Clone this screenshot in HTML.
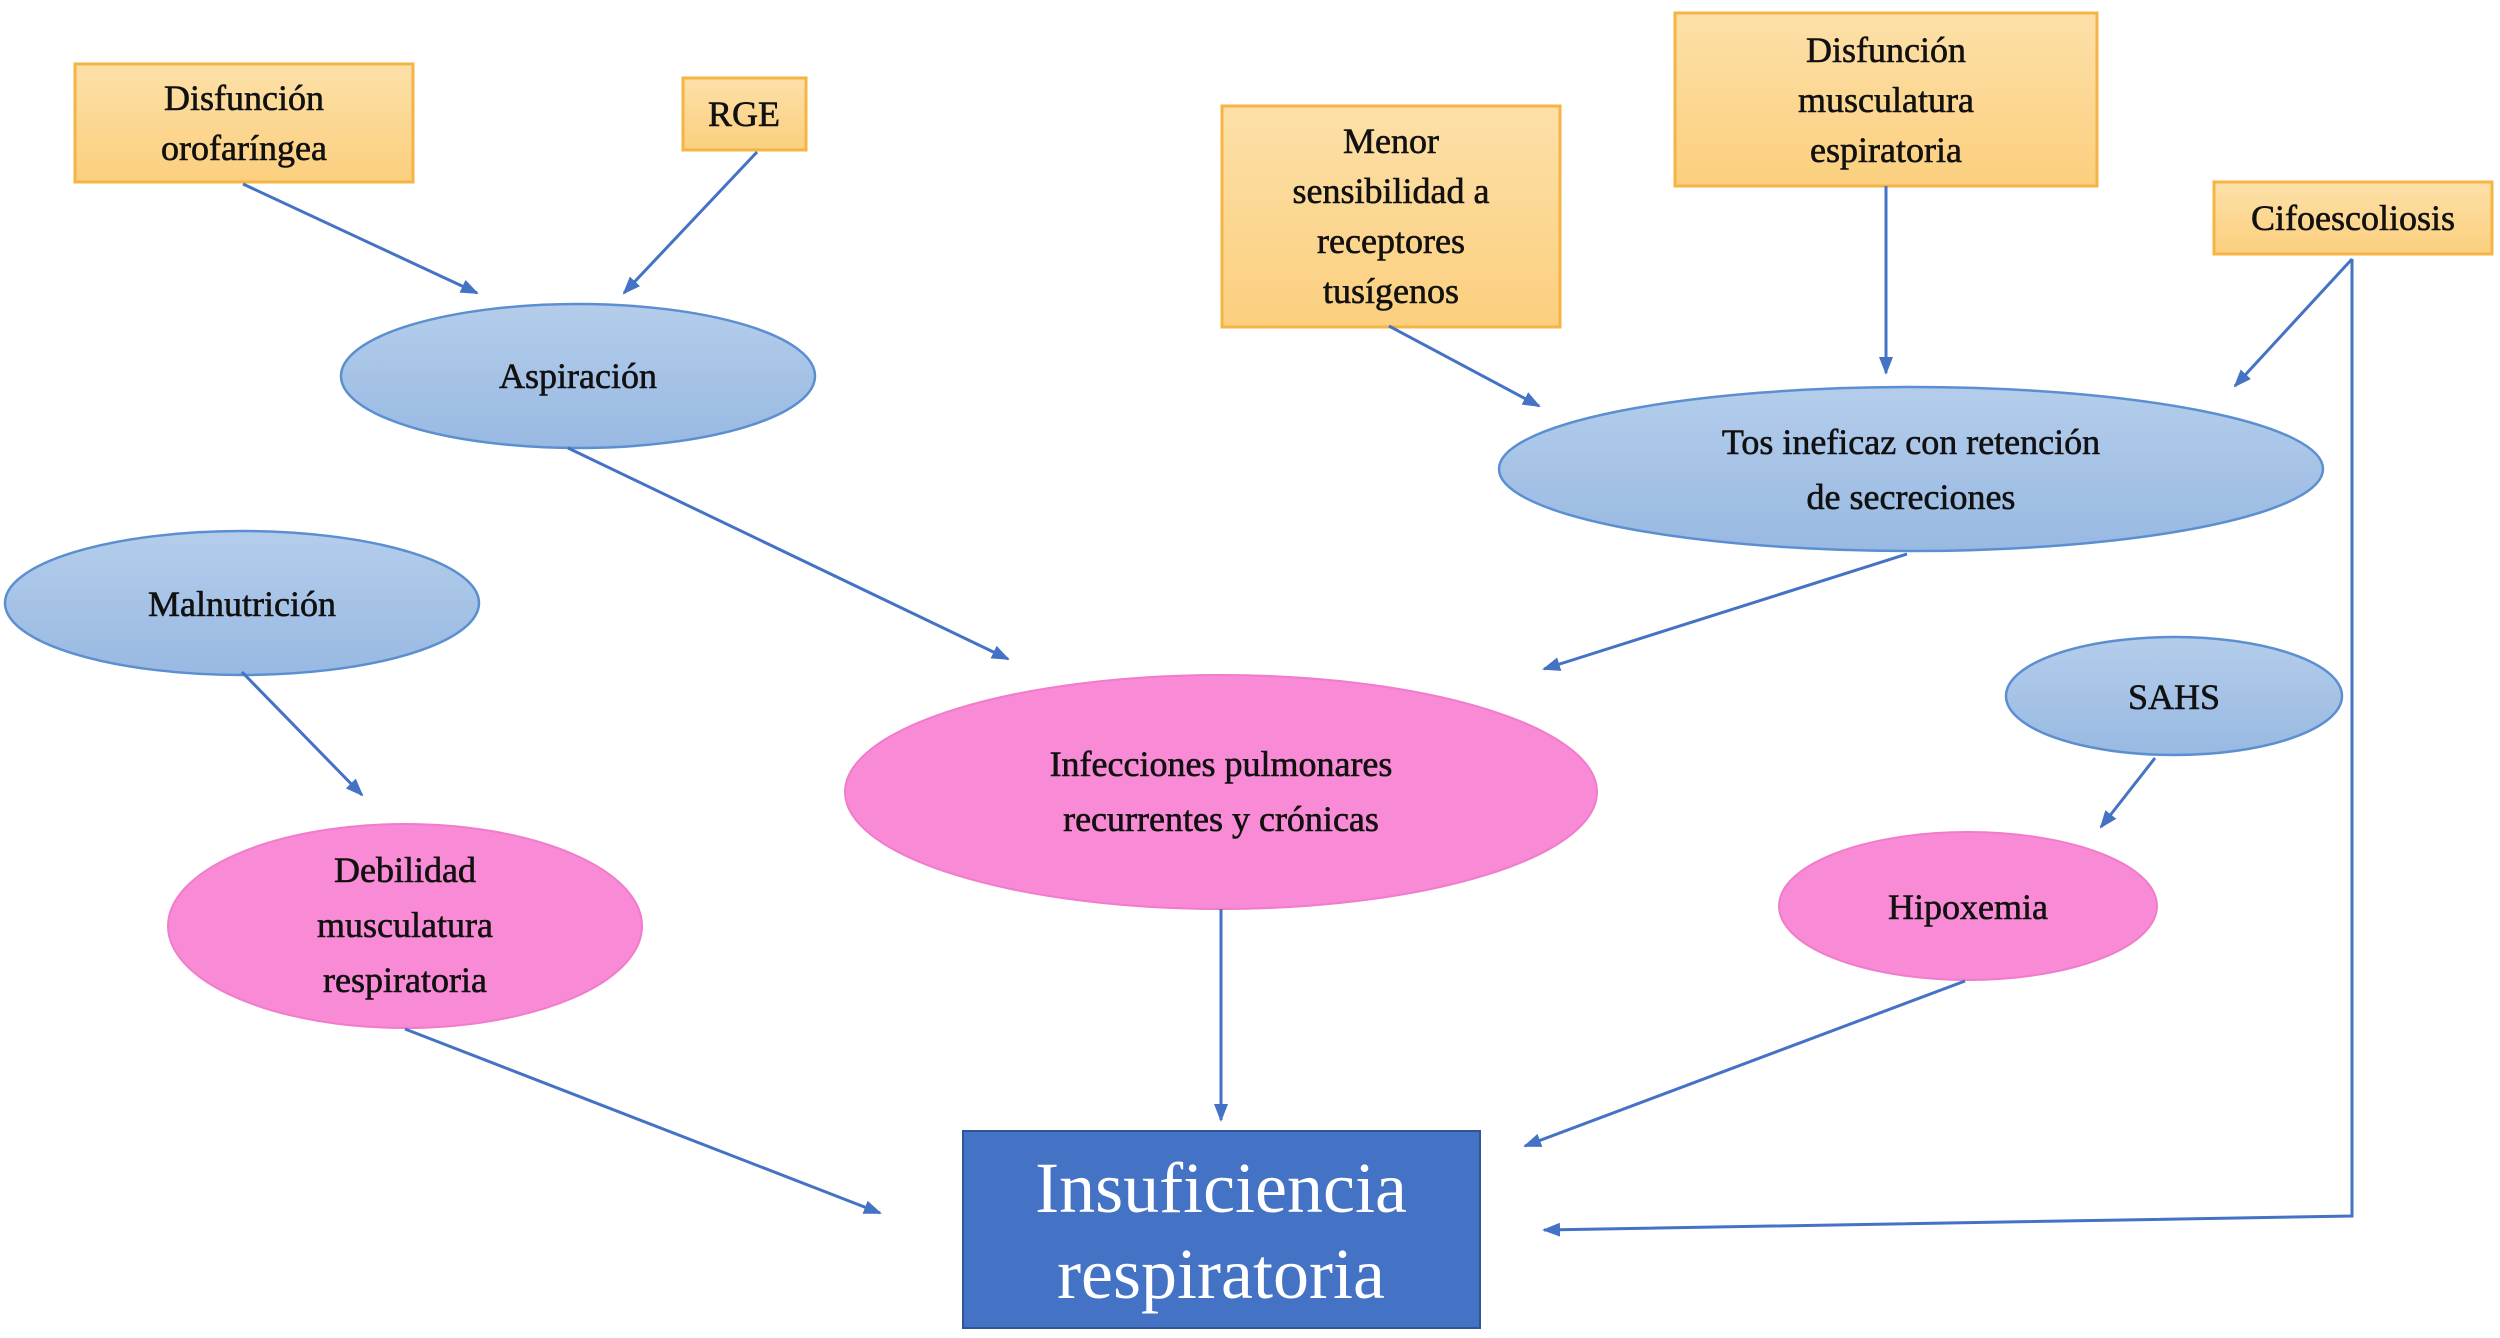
<!DOCTYPE html>
<html><head><meta charset="utf-8"><style>
html,body{margin:0;padding:0;background:#fff}
svg text{font-family:"Liberation Serif",serif;fill:#111}
</style></head><body>
<svg width="2500" height="1333" viewBox="0 0 2500 1333" xmlns="http://www.w3.org/2000/svg">
<defs>
<linearGradient id="o" x1="0" y1="0" x2="0" y2="1"><stop offset="0" stop-color="#fde0a8"/><stop offset="1" stop-color="#fbcf7e"/></linearGradient>
<linearGradient id="b" x1="0" y1="0" x2="0" y2="1"><stop offset="0" stop-color="#b4cdeb"/><stop offset="1" stop-color="#98b9e2"/></linearGradient>
<marker id="a" markerWidth="18" markerHeight="16" refX="16" refY="8" orient="auto" markerUnits="userSpaceOnUse" viewBox="0 0 18 16"><path d="M0,1 L18,8 L0,15 z" fill="#4472c4"/></marker>
</defs>
<g fill="url(#o)" stroke="#f4b545" stroke-width="3">
<rect x="75" y="64" width="338" height="118"/>
<rect x="683" y="78" width="123" height="72"/>
<rect x="1222" y="106" width="338" height="221"/>
<rect x="1675" y="13" width="422" height="173"/>
<rect x="2214" y="182" width="278" height="72"/>
</g>
<g fill="url(#b)" stroke="#5b8fd0" stroke-width="2.5">
<ellipse cx="578" cy="376" rx="237" ry="72"/>
<ellipse cx="1911" cy="469" rx="412" ry="82"/>
<ellipse cx="242" cy="603" rx="237" ry="72"/>
<ellipse cx="2174" cy="696" rx="168" ry="59"/>
</g>
<g fill="#f98ad6" stroke="#f07ccb" stroke-width="2">
<ellipse cx="1221" cy="792" rx="376" ry="117"/>
<ellipse cx="405" cy="926" rx="237" ry="102"/>
<ellipse cx="1968" cy="906" rx="189" ry="74"/>
</g>
<rect x="963" y="1131" width="517" height="197" fill="#4472c4" stroke="#2f5597" stroke-width="2"/>
<g stroke="#4472c4" stroke-width="3" fill="none" marker-end="url(#a)">
<line x1="243" y1="184" x2="477" y2="293"/>
<line x1="757" y1="152" x2="624" y2="293"/>
<line x1="568" y1="448" x2="1008" y2="659"/>
<line x1="1389" y1="326" x2="1539" y2="406"/>
<line x1="1886" y1="186" x2="1886" y2="373"/>
<line x1="2352" y1="259" x2="2235" y2="386"/>
<line x1="1907" y1="554" x2="1544" y2="669"/>
<line x1="242" y1="672" x2="362" y2="795"/>
<line x1="2155" y1="758" x2="2101" y2="827"/>
<line x1="1221" y1="909" x2="1221" y2="1120"/>
<line x1="405" y1="1029" x2="880" y2="1213"/>
<line x1="1965" y1="981" x2="1525" y2="1146"/>
<polyline points="2352,259 2352,1216 1544,1230"/>
</g>
<g font-size="36" text-anchor="middle" stroke="#111" stroke-width="0.6">
<text x="244" y="110">Disfunción</text><text x="244" y="160">orofaríngea</text>
<text x="744" y="126">RGE</text>
<text x="1391" y="153">Menor</text><text x="1391" y="203">sensibilidad a</text><text x="1391" y="253">receptores</text><text x="1391" y="303">tusígenos</text>
<text x="1886" y="62">Disfunción</text><text x="1886" y="112">musculatura</text><text x="1886" y="162">espiratoria</text>
<text x="2353" y="230">Cifoescoliosis</text>
<text x="578" y="388">Aspiración</text>
<text x="1911" y="454">Tos ineficaz con retención</text><text x="1911" y="509">de secreciones</text>
<text x="242" y="616">Malnutrición</text>
<text x="2174" y="709">SAHS</text>
<text x="1221" y="776">Infecciones pulmonares</text><text x="1221" y="831">recurrentes y crónicas</text>
<text x="405" y="882">Debilidad</text><text x="405" y="937">musculatura</text><text x="405" y="992">respiratoria</text>
<text x="1968" y="919">Hipoxemia</text>
</g>
<g font-size="72" text-anchor="middle">
<text x="1221" y="1212" style="fill:#fff">Insuficiencia</text>
<text x="1221" y="1298" style="fill:#fff">respiratoria</text>
</g>
</svg>
</body></html>
